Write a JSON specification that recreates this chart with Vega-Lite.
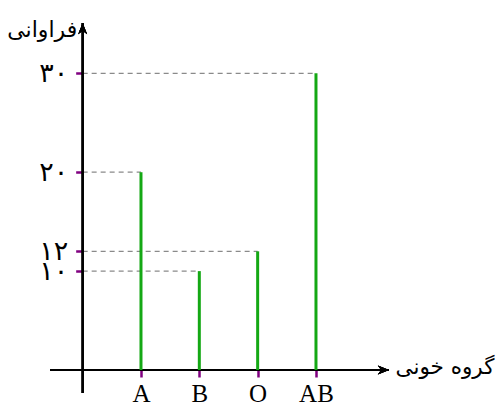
{
  "$schema": "https://vega.github.io/schema/vega-lite/v6.json",
  "autosize": {"type": "none"},
  "width": 339,
  "height": 370,
  "padding": {"left": 50, "top": 23, "right": 110, "bottom": 14},
  "background": "white",
  "config": {"view": {"stroke": null}},
  "data": {"values": [
    {"group": "A", "freq": 20},
    {"group": "B", "freq": 10},
    {"group": "O", "freq": 12},
    {"group": "AB", "freq": 30}
  ]},
  "encoding": {
    "x": {
      "field": "group", "type": "nominal",
      "scale": {"type": "point", "domain": ["0", "A", "B", "O", "AB"], "padding": 0.9058, "align": 0.309},
      "axis": {
        "values": ["A", "B", "O", "AB"], "offset": -23, "domain": false, "grid": false,
        "tickColor": "#800080", "tickWidth": 2.5, "tickSize": 7,
        "labelFont": "Liberation Serif", "labelFontSize": 25, "labelColor": "black", "labelPadding": 4, "labelAngle": 0,
        "title": "گروه خونی", "titleFont": "DejaVu Sans", "titleFontSize": 21.5, "titleFontWeight": "normal", "titleColor": "black",
        "titleAngle": 0, "titleAlign": "left", "titleBaseline": "middle", "titleX": 345, "titleY": -3, "titleAnchor": null
      }
    },
    "y": {
      "field": "freq", "type": "quantitative",
      "scale": {"domain": [-2.326, 35.09], "nice": false, "zero": false},
      "axis": {
        "values": [10, 12, 20, 30], "offset": -32.67, "domain": false, "grid": false,
        "tickColor": "#800080", "tickWidth": 2.5, "tickSize": 7, "labelOverlap": false,
        "labelExpr": "replace(replace(replace(replace(datum.label,'0','۰'),'1','۱'),'2','۲'),'3','۳')",
        "labelFont": "DejaVu Sans", "labelFontSize": 27, "labelColor": "black", "labelPadding": 8,
        "title": "فراوانی", "titleFont": "DejaVu Sans", "titleFontSize": 22, "titleFontWeight": "normal", "titleColor": "black",
        "titleAngle": 0, "titleAlign": "right", "titleBaseline": "middle", "titleX": -6, "titleY": 6, "titleAnchor": null
      }
    }
  },
  "layer": [
    {
      "mark": {"type": "rule", "color": "#8a8a8a", "strokeWidth": 1.2, "strokeDash": [5, 4]},
      "encoding": {"x": {"datum": "0"}, "x2": {"field": "group"}, "y": {"field": "freq", "type": "quantitative"}}
    },
    {
      "mark": {"type": "rule", "color": "black", "strokeWidth": 2},
      "encoding": {"x": {"datum": "0"}, "y": null}
    },
    {
      "mark": {"type": "rule", "color": "black", "strokeWidth": 2},
      "encoding": {"y": {"datum": 0}, "x": null}
    },
    {
      "mark": {"type": "rule", "color": "#14a814", "strokeWidth": 3},
      "encoding": {"y2": {"datum": 0}}
    },
    {
      "mark": {"type": "point", "shape": "M0,0 L-0.8,2 L0,1.4 L0.8,2 Z", "filled": true, "size": 125, "color": "black", "opacity": 1},
      "encoding": {"x": {"datum": "0"}, "y": {"datum": 35.09}}
    },
    {
      "mark": {"type": "point", "shape": "M0,0 L-2,-0.8 L-1.4,0 L-2,0.8 Z", "filled": true, "size": 125, "color": "black", "opacity": 1},
      "encoding": {"x": {"value": "width"}, "y": {"datum": 0}}
    }
  ]
}
